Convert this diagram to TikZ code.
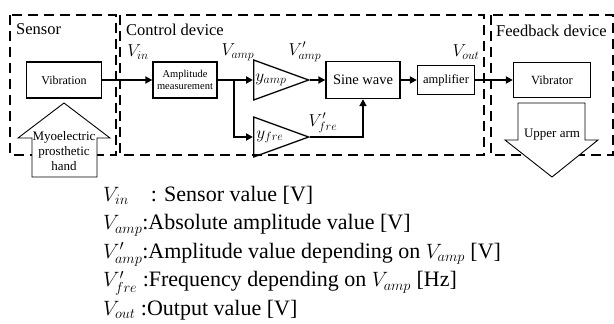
\documentclass[tikz,border=0pt]{standalone}
\usepackage{fontspec}
\setmainfont{Liberation Serif}
\usetikzlibrary{arrows.meta,positioning,shapes.geometric}

\begin{document}
\begin{tikzpicture}[x=1pt,y=-1pt,
      >={Triangle[length=7pt,width=7pt]},
      blk/.style={rectangle,draw,line width=1.3pt,inner sep=1pt,align=center},
      gain/.style={isosceles triangle,isosceles triangle stretches,draw,line width=1.3pt,
                   minimum width=40pt,minimum height=55pt,inner sep=0pt,anchor=lower side,
                   font=\fontsize{16.5}{18}\selectfont},
      grp/.style={draw,line width=2.6pt,dash pattern=on 10pt off 6pt},
      ttl/.style={anchor=west,inner sep=0pt,font=\fontsize{16.5}{18}\selectfont},
      sig/.style={inner sep=0pt,font=\fontsize{16.5}{18}\selectfont},
      fat/.style={draw,line width=0.9pt,fill=white},
      ar/.style={->,line width=2pt}]

    \useasboundingbox (0,0) rectangle (614,324);

    % device groups
    \draw[grp] (10,15) rectangle (116,155);
    \draw[grp] (120,15) rectangle (484,155);
    \draw[grp] (491,15) rectangle (613,155);
    \node[ttl] (tsens) at (16,29) {Sensor};
    \node[ttl] (tctrl) at (126,30) {Control device};
    \node[ttl] (tfeed) at (496,31) {Feedback device};

    % blocks
    \node[blk,minimum width=75pt,minimum height=36pt,font=\fontsize{12}{14}\selectfont] (vib) at (64,80) {Vibration};
    \node[blk,minimum width=64pt,minimum height=36pt,font=\fontsize{10.5}{12.5}\selectfont] (meas) at (185,80) {Amplitude\\measurement};
    \node[gain] (yamp) at (253,80) {$y_{amp}$};
    \node[gain] (yfre) at (253,137) {$y_{fre}$};
    \node[blk,minimum width=74pt,minimum height=37pt,font=\fontsize{14.5}{16}\selectfont] (sine) at (363,80) {Sine wave};
    \node[blk,minimum width=57pt,minimum height=29pt,font=\fontsize{12.5}{14}\selectfont] (ampl) at (446,80) {amplifier};
    \node[blk,minimum width=77pt,minimum height=35pt,font=\fontsize{12.5}{14}\selectfont] (vibr) at (552,80) {Vibrator};

    % signals
    \node[sig] (vin) at (138,52) {$V_{in}$};
    \node[sig] (vamp) at (238,52) {$V_{amp}$};
    \node[sig] (vampd) at (305,52) {$V'_{amp}$};
    \node[sig] (vfred) at (323,123) {$V'_{fre}$};
    \node[sig] (vout) at (466,52) {$V_{out}$};

    \coordinate (br) at (234,80);
    \draw[ar] (vib) -- (meas);
    \draw[line width=2pt] (meas.east) -- (br);
    \draw[ar] (br) -- (yamp.lower side);
    \draw[ar] (br) |- (yfre.lower side);
    \draw[ar] (yamp.apex) -- (sine);
    \draw[ar] (yfre.apex) -| (sine.south);
    \draw[ar] (sine) -- (ampl);
    \draw[ar] (ampl) -- (vibr);

    % body parts
    \draw[fat] (64,103) -- (110,138) -- (97,138) -- (97,177) -- (32,177) -- (32,138) -- (18,138) -- cycle;
    \node[align=center,inner sep=0pt,font=\fontsize{13}{15}\selectfont] (myo) at (64,151) {Myoelectric\\prosthetic\\hand};
    \draw[fat] (518,103) -- (585,103) -- (585,140) -- (598,140) -- (552,177) -- (505,140) -- (518,140) -- cycle;
    \node[inner sep=0pt,font=\fontsize{13}{15}\selectfont] (arm) at (552,135) {Upper arm};

    % legend
    \node[anchor=north west,inner sep=0pt,align=left,font=\fontsize{22}{28.5}\selectfont] (legend) at (103,186)
      {$V_{in}$\hspace{22pt}: Sensor value [V]\\
       $V_{amp}$:Absolute amplitude value [V]\\
       $V'_{amp}$:Amplitude value depending on $V_{amp}$ [V]\\
       $V'_{fre}$ :Frequency depending on $V_{amp}$ [Hz]\\
       $V_{out}$ :Output value [V]};
  \end{tikzpicture}
\end{document}
